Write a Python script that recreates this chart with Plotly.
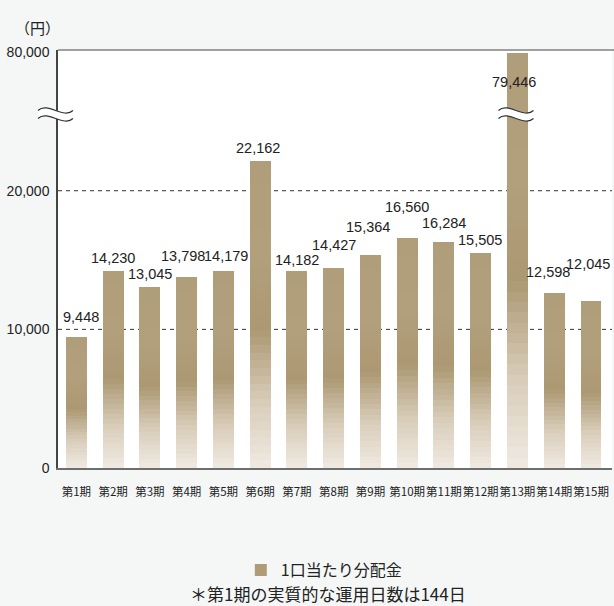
import plotly.graph_objects as go

# ---- data ----
periods = [f"第{i}期" for i in range(1, 16)]
values = [9448, 14230, 13045, 13798, 14179, 22162, 14182, 14427,
          15364, 16560, 16284, 15505, 79446, 12598, 12045]
y_tickvals_real = [0, 10000, 20000, 80000]
y_ticktext = ["0", "10,000", "20,000", "80,000"]
series_name = "1口当たり分配金"
unit_label = "（円）"
footnote = "＊第1期の実質的な運用日数は144日"

# ---- broken axis mapping (linear up to the break, compressed above) ----
BREAK = 25500
TOP_REAL, TOP_DISP = 80000, 30000


def disp(v):
    if v <= BREAK:
        return v
    return BREAK + (v - BREAK) * (TOP_DISP - BREAK) / (TOP_REAL - BREAK)


disp_vals = [disp(v) for v in values]
tickvals = [disp(v) for v in y_tickvals_real]

# ---- styles ----
label_dy = [20, 13, 13, 21, 15, 13, 11, 23, 28, 31, 19, 13, -29, 21, 37]
label_dx = [5, 0, 0, -4, 3, -2, 0, 0, -2, 0, 0, -1, -3, -6, -3]
# gradient stops: fraction from bottom -> colour
grad = [(0.0, (0xF0, 0xEA, 0xE2)), (0.22, (0xD8, 0xCC, 0xB8)),
        (0.45, (0xAC, 0x99, 0x73)), (0.7, (0xB2, 0x9F, 0x7C)),
        (1.0, (0xB0, 0x9D, 0x79))]


def gcol(f):
    for (f0, c0), (f1, c1) in zip(grad[:-1], grad[1:]):
        if f0 <= f <= f1:
            t = (f - f0) / (f1 - f0)
            c = [round(a + (b - a) * t) for a, b in zip(c0, c1)]
            return f"rgb({c[0]},{c[1]},{c[2]})"
    c = grad[-1][1]
    return f"rgb({c[0]},{c[1]},{c[2]})"


NSEG = 40
NUM_FONT = "Liberation Sans, Arial, sans-serif"
CJK_FONT = "Noto Sans CJK JP, sans-serif"

fig = go.Figure()
for k in range(NSEG):
    fig.add_trace(go.Bar(
        x=periods,
        y=[d / NSEG for d in disp_vals],
        marker=dict(color=gcol((k + 0.5) / NSEG), line=dict(width=0)),
        name=series_name,
        legendgroup="g",
        showlegend=(k == 22),
        hoverinfo="skip" if k != NSEG - 1 else None,
        customdata=values,
        hovertemplate="%{x}: %{customdata:,}円<extra></extra>",
    ))

annotations = []
for i, (p, d, v) in enumerate(zip(periods, disp_vals, values)):
    annotations.append(dict(
        x=p, y=d, xref="x", yref="y", text=f"{v:,}", showarrow=False,
        yshift=label_dy[i], xshift=label_dx[i], yanchor="middle",
        font=dict(family=NUM_FONT, size=14.5, color="#222222"),
    ))
annotations.append(dict(
    x=-0.037, y=1.055, xref="paper", yref="paper", text=unit_label,
    showarrow=False, xanchor="center", yanchor="middle",
    font=dict(family=CJK_FONT, size=15, color="#222222"),
))
annotations.append(dict(
    x=0.4865, y=-0.30, xref="paper", yref="paper", text=footnote,
    showarrow=False, xanchor="center", yanchor="middle",
    font=dict(family=CJK_FONT, size=17, color="#222222"),
))

shapes = []
# dashed reference lines at 10,000 and 20,000
for v in (10000, 20000):
    shapes.append(dict(type="line", xref="paper", x0=0, x1=1, yref="y",
                       y0=disp(v), y1=disp(v), layer="below",
                       line=dict(color="#333333", width=1, dash="4px,4px")))
# top frame line
shapes.append(dict(type="line", xref="paper", x0=0, x1=1.01, yref="paper",
                   y0=1, y1=1, line=dict(color="#444444", width=1)))

# break marks (≈)
up = "M -17.5,4 C -8,13 8,-5 17.5,4"
lo = "M -17.5,-4 C -8,5 8,-13 17.5,-4"
band = "M -17.5,4 C -8,13 8,-5 17.5,4 L 17.5,-4 C 8,-13 -8,5 -17.5,-4 Z"


def shift_path(path, dx):
    out = []
    for a in path.split(" "):
        if "," in a:
            px, py = a.split(",")
            out.append(f"{float(px) + dx:.2f},{py}")
        else:
            out.append(a)
    return " ".join(out)


for xref, xa, dx in (("paper", 0, -2.5), ("x", 12, -1.5)):
    for path, fill, lw in ((band, "white", 0), (up, "rgba(0,0,0,0)", 1.2),
                           (lo, "rgba(0,0,0,0)", 1.2)):
        shapes.append(dict(
            type="path", layer="above", xref=xref, yref="y",
            xsizemode="pixel", ysizemode="pixel", xanchor=xa, yanchor=BREAK,
            path=shift_path(path, dx),
            fillcolor=fill,
            line=dict(color="#333333", width=lw),
        ))

fig.update_layout(
    width=614, height=606,
    margin=dict(l=58, r=2, t=50, b=138),
    paper_bgcolor="#f5f7f7",
    plot_bgcolor="#ffffff",
    barmode="stack",
    bargap=0.43,
    showlegend=True,
    legend=dict(orientation="h", x=0.33, xanchor="left", y=-0.244,
                yanchor="middle", bgcolor="rgba(0,0,0,0)",
                font=dict(family=CJK_FONT, size=16, color="#222222")),
    annotations=annotations,
    shapes=shapes,
    xaxis=dict(type="category", showgrid=False, showline=True,
               linecolor="#6e6e6e", linewidth=2, ticks="", tickangle=0,
               ticklabelstandoff=12,
               tickfont=dict(family=CJK_FONT, size=11.5, color="#222222")),
    yaxis=dict(range=[0, 30150], tickvals=tickvals, ticktext=y_ticktext,
               showgrid=False, zeroline=False, showline=True,
               linecolor="#444444", linewidth=1.5, ticks="",
               ticklabelstandoff=4,
               tickfont=dict(family="Liberation Sans, Arial, sans-serif",
                             size=14, color="#222222")),
)

fig.write_html("out.html")
